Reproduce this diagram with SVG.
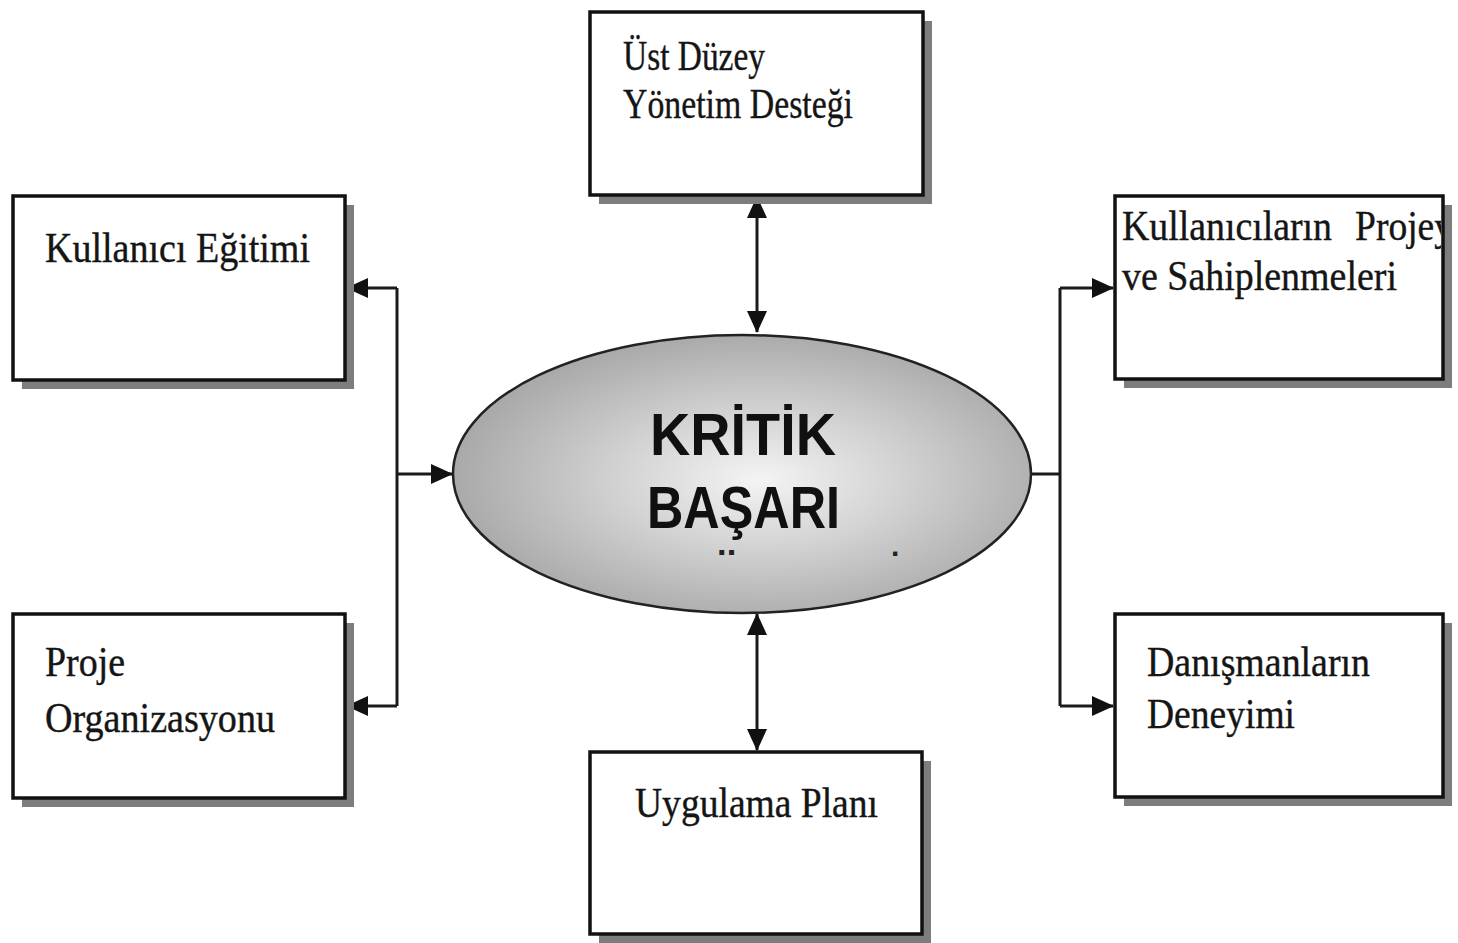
<svg xmlns="http://www.w3.org/2000/svg" width="1458" height="943" viewBox="0 0 1458 943">
  <style>
    .shadow { fill: #7d7d7d; }
    .box { fill: #ffffff; stroke: #111111; stroke-width: 3.5; }
    .lbl { font-family: "Liberation Serif", "Times New Roman", serif; font-size: 42px; fill: #151515; stroke: #151515; stroke-width: 0.4; }
    .core { font-family: "Liberation Sans", Arial, sans-serif; font-weight: bold; font-size: 60px; fill: #101010; }
    .link { fill: none; stroke: #1a1a1a; stroke-width: 3; }
  </style>
  <defs>
    <radialGradient id="coreFill" cx="0.53" cy="0.52" r="0.55">
      <stop offset="0" stop-color="#f4f4f4"/>
      <stop offset="0.45" stop-color="#d2d2d2"/>
      <stop offset="1" stop-color="#a6a6a6"/>
    </radialGradient>
    <marker id="head" markerUnits="userSpaceOnUse" markerWidth="22" markerHeight="20" refX="21" refY="10" orient="auto-start-reverse">
      <path d="M0,0 L22,10 L0,20 z" fill="#111111"/>
    </marker>
    <clipPath id="clipRightTop">
      <rect x="1115" y="196" width="326" height="183"/>
    </clipPath>
  </defs>

  <rect width="1458" height="943" fill="#ffffff"/>

  <!-- connectors -->
  <g id="connectors">
    <path class="link" d="M757,197 V332" marker-start="url(#head)" marker-end="url(#head)"/>
    <path class="link" d="M757,614 V750" marker-start="url(#head)" marker-end="url(#head)"/>
    <path class="link" d="M397,288 V706"/>
    <path class="link" d="M397,288 H347" marker-end="url(#head)"/>
    <path class="link" d="M397,706 H347" marker-end="url(#head)"/>
    <path class="link" d="M397,474 H452" marker-end="url(#head)"/>
    <path class="link" d="M1031,474 H1060"/>
    <path class="link" d="M1060,288 V706"/>
    <path class="link" d="M1060,288 H1113" marker-end="url(#head)"/>
    <path class="link" d="M1060,706 H1113" marker-end="url(#head)"/>
  </g>

  <!-- centre ellipse -->
  <g id="kritik-basari">
    <ellipse cx="742" cy="474" rx="289" ry="139" fill="url(#coreFill)" stroke="#222222" stroke-width="2.5"/>
    <text class="core" x="650" y="455" textLength="186" lengthAdjust="spacingAndGlyphs">KRİTİK</text>
    <text class="core" x="647" y="528" textLength="193" lengthAdjust="spacingAndGlyphs">BAŞARI</text>
    <text x="719" y="582" font-family="Liberation Sans, Arial, sans-serif" font-weight="bold" font-size="46" fill="#222222">¨</text>
    <text x="891" y="556" font-family="Liberation Sans, Arial, sans-serif" font-weight="bold" font-size="30" fill="#222222">.</text>
  </g>

  <!-- top box -->
  <g id="ust-duzey">
    <rect class="shadow" x="599" y="21" width="333" height="183"/>
    <rect class="box" x="590" y="12" width="333" height="183"/>
    <text class="lbl" x="623" y="70" textLength="142" lengthAdjust="spacingAndGlyphs">Üst Düzey</text>
    <text class="lbl" x="623" y="118" textLength="230" lengthAdjust="spacingAndGlyphs">Yönetim Desteği</text>
  </g>

  <!-- left upper box -->
  <g id="kullanici-egitimi">
    <rect class="shadow" x="22" y="205" width="332" height="184"/>
    <rect class="box" x="13" y="196" width="332" height="184"/>
    <text class="lbl" x="45" y="262" textLength="265" lengthAdjust="spacingAndGlyphs">Kullanıcı Eğitimi</text>
  </g>

  <!-- left lower box -->
  <g id="proje-organizasyonu">
    <rect class="shadow" x="22" y="623" width="332" height="184"/>
    <rect class="box" x="13" y="614" width="332" height="184"/>
    <text class="lbl" x="45" y="676" textLength="80" lengthAdjust="spacingAndGlyphs">Proje</text>
    <text class="lbl" x="45" y="732" textLength="230" lengthAdjust="spacingAndGlyphs">Organizasyonu</text>
  </g>

  <!-- right upper box; the first line runs past the frame and is cut at its edge -->
  <g id="kullanicilarin-projeye">
    <rect class="shadow" x="1124" y="205" width="328" height="183"/>
    <rect class="box" x="1115" y="196" width="328" height="183"/>
    <g clip-path="url(#clipRightTop)">
      <text class="lbl" x="1122" y="240" textLength="210" lengthAdjust="spacingAndGlyphs">Kullanıcıların</text>
      <text class="lbl" x="1355" y="240" textLength="98" lengthAdjust="spacingAndGlyphs">Projey</text>
    </g>
    <text class="lbl" x="1122" y="290" textLength="275" lengthAdjust="spacingAndGlyphs">ve Sahiplenmeleri</text>
  </g>

  <!-- right lower box -->
  <g id="danismanlarin-deneyimi">
    <rect class="shadow" x="1124" y="623" width="328" height="183"/>
    <rect class="box" x="1115" y="614" width="328" height="183"/>
    <text class="lbl" x="1147" y="676" textLength="223" lengthAdjust="spacingAndGlyphs">Danışmanların</text>
    <text class="lbl" x="1147" y="728" textLength="148" lengthAdjust="spacingAndGlyphs">Deneyimi</text>
  </g>

  <!-- bottom box -->
  <g id="uygulama-plani">
    <rect class="shadow" x="599" y="761" width="332" height="182"/>
    <rect class="box" x="590" y="752" width="332" height="182"/>
    <text class="lbl" x="635" y="817" textLength="243" lengthAdjust="spacingAndGlyphs">Uygulama Planı</text>
  </g>
</svg>
